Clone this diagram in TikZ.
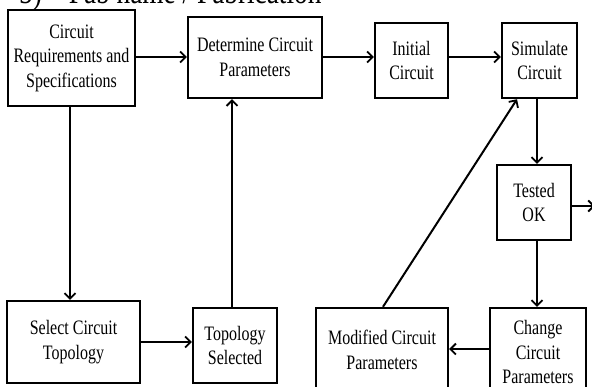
\documentclass[tikz,border=0pt]{standalone}
\usepackage{fontspec}
\setmainfont{Liberation Serif}
\newfontfamily\condfont[FakeStretch=0.78]{Liberation Serif}
\usetikzlibrary{arrows.meta}
\begin{document}
\begin{tikzpicture}[x=1pt,y=-1pt,
  box/.style={draw,line width=2.4pt,inner sep=0pt,align=center,
    font=\condfont\fontsize{20.5}{24.5}\selectfont},
  link/.style={line width=2pt,-{Straight Barb[length=5.5pt,width=11pt,line width=1.8pt]}},
  plain/.style={line width=2pt}]
\useasboundingbox[fill=white] (0,0) rectangle (592,386);
\node[anchor=base west,inner sep=0pt,font=\condfont\fontsize{35}{38}\selectfont] (title) at (19,3.5) {5)\hspace{27pt}Fab name / Fabrication};
\node[box,minimum width=127pt,minimum height=96pt] (req) at (71.5,58) {Circuit\\Requirements and\\Specifications};
\node[box,minimum width=134pt,minimum height=81pt] (det) at (255,57.5) {Determine Circuit\\Parameters};
\node[box,minimum width=73pt,minimum height=75pt] (ini) at (411.5,60.5) {Initial\\Circuit};
\node[box,minimum width=75pt,minimum height=75pt] (sim) at (539.5,60.5) {Simulate\\Circuit};
\node[box,minimum width=74pt,minimum height=75pt] (tst) at (534,202.5) {Tested\\OK};
\node[box,minimum width=96pt,minimum height=88pt] (chg) at (538,352) {Change\\Circuit\\Parameters};
\node[box,minimum width=132pt,minimum height=84pt] (mod) at (382,350) {Modified Circuit\\Parameters};
\node[box,minimum width=133pt,minimum height=82pt] (sel) at (73.5,342) {Select Circuit\\Topology};
\node[box,minimum width=84pt,minimum height=75pt] (top) at (235,345.5) {Topology\\Selected};
\coordinate (ya) at (0,57);
\coordinate (xv) at (537,0);
\coordinate (yo) at (0,206);
\coordinate (out) at (595,206);
\coordinate (yc) at (0,349);
\coordinate (xm) at (383,0);
\coordinate (xs) at (517,0);
\coordinate (xr) at (70,0);
\coordinate (ys) at (0,342);
\coordinate (xt) at (232,0);
\draw[link] (req.east |- ya) -- (det.west |- ya);
\draw[link] (det.east |- ya) -- (ini.west |- ya);
\draw[link] (ini.east |- ya) -- (sim.west |- ya);
\draw[link] (sim.south -| xv) -- (tst.north -| xv);
\draw[link] (tst.east |- yo) -- (out);
\draw[link] (tst.south -| xv) -- (chg.north -| xv);
\draw[link] (chg.west |- yc) -- (mod.east |- yc);
\draw[link] (mod.north -| xm) -- (sim.south -| xs);
\draw[link] (req.south -| xr) -- (sel.north -| xr);
\draw[link] (sel.east |- ys) -- (top.west |- ys);
\draw[link] (top.north -| xt) -- (det.south -| xt);
\end{tikzpicture}
\end{document}
